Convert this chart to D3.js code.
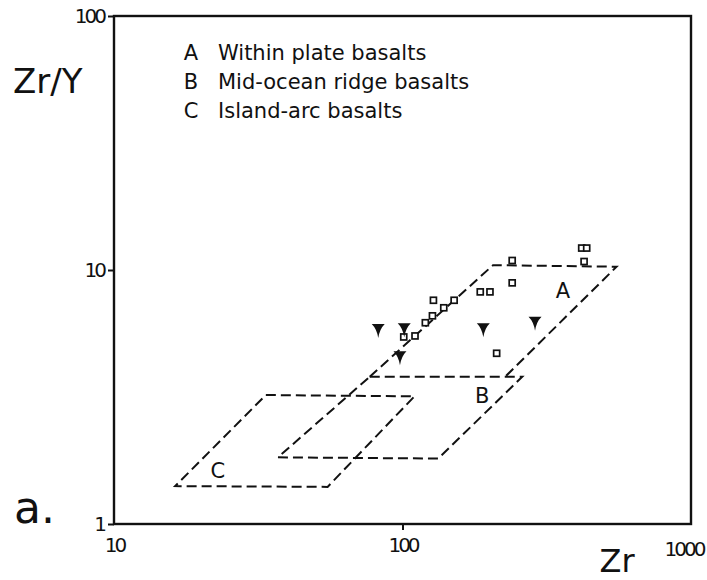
<!DOCTYPE html>
<html>
<head>
<meta charset="utf-8">
<script src="https://cdn.jsdelivr.net/npm/d3@7"></script>
<style>
  html, body { margin: 0; padding: 0; background: #fff; }
  svg { display: block; }
  .lbl { font-family: "DejaVu Sans", sans-serif; fill: #111; }
  .tick text { font-family: "DejaVu Sans", sans-serif; font-size: 20px; letter-spacing: -3px; fill: #111; }
</style>
</head>
<body>
<svg id="chart" width="707" height="580"></svg>
<script>
// Zr (ppm) against Zr/Y, both on log scales — discrimination fields for basalts
const xTicks = [10, 100, 1000];
const yTicks = [1, 10, 100];

// Field outlines as [Zr, Zr/Y] corners
const fieldA = [[77, 3.8], [206, 10.45], [552, 10.3], [227, 3.8]];          // lower edge is shared with B
const fieldB = [[77, 3.8], [260, 3.8], [133, 1.81], [37, 1.83], [77, 3.8]];
const fieldC = [[33.6, 3.22], [110, 3.18], [55, 1.4], [16.3, 1.41], [33.6, 3.22]];
const fieldNames = ["A", "B", "C"];
const fieldLabelAt = [[360, 8.34], [189, 3.22], [22.9, 1.63]];

const legendKeys = ["A", "B", "C"];
const legendTexts = ["Within plate basalts", "Mid-ocean ridge basalts", "Island-arc basalts"];

// Samples plotted as open squares
const squareZr  = [418, 435, 426, 240, 240, 186, 201, 128, 151, 139, 127, 120, 110.5, 101, 212];
const squareZrY = [12.2, 12.2, 10.8, 10.9, 8.9, 8.2, 8.2, 7.6, 7.6, 7.1, 6.6, 6.2, 5.5, 5.45, 4.7];

// Samples plotted as filled down-triangles
const triangleZr  = [82.4, 101.4, 190.6, 288, 98];
const triangleZrY = [5.8, 5.84, 5.84, 6.2, 4.53];

const W = 707, H = 580;
const margin = { left: 114, top: 16, right: 16, bottom: 56 };
const svg = d3.select("#chart");
const ink = "#111";

const x = d3.scaleLog().domain([10, 1000]).range([margin.left, W - margin.right]);
const y = d3.scaleLog().domain([1, 100]).range([H - margin.bottom, margin.top]);

// Frame
svg.append("rect")
  .attr("x", x(10)).attr("y", y(100))
  .attr("width", x(1000) - x(10)).attr("height", y(1) - y(100))
  .attr("fill", "none").attr("stroke", ink).attr("stroke-width", 2.4);

// Axes
const xAxis = svg.append("g")
  .attr("transform", `translate(0,${y(1)})`)
  .call(d3.axisBottom(x).tickValues(xTicks).tickFormat(d3.format("d")).tickSize(6).tickPadding(8).tickSizeOuter(0));
xAxis.select(".domain").remove();
xAxis.selectAll(".tick line").attr("stroke", ink).attr("stroke-width", 2)
  .attr("y2", d => (d === 100 ? 6 : 0));
xAxis.selectAll(".tick text")
  .filter(d => d === 1000)
  .attr("text-anchor", "end")
  .attr("x", W - x(1000) - 4)
  .attr("y", 18);

const yAxis = svg.append("g")
  .attr("transform", `translate(${x(10)},0)`)
  .call(d3.axisLeft(y).tickValues(yTicks).tickFormat(d3.format("d")).tickSize(6).tickPadding(4).tickSizeOuter(0));
yAxis.select(".domain").remove();
yAxis.selectAll(".tick line").attr("stroke", ink).attr("stroke-width", 2);

// Dashed field outlines
const line = d3.line().x(d => x(d[0])).y(d => y(d[1]));
[fieldA, fieldB, fieldC].forEach(f => {
  svg.append("path")
    .attr("d", line(f))
    .attr("fill", "none")
    .attr("stroke", ink)
    .attr("stroke-width", 2)
    .attr("stroke-dasharray", "10,5");
});

// Field letters
svg.selectAll("text.field")
  .data(fieldNames)
  .enter().append("text")
  .attr("class", "lbl field")
  .attr("x", (d, i) => x(fieldLabelAt[i][0]))
  .attr("y", (d, i) => y(fieldLabelAt[i][1]))
  .attr("dy", "0.36em")
  .attr("text-anchor", "middle")
  .attr("font-size", 21)
  .text(d => d);

// Legend
const legend = svg.append("g");
legendKeys.forEach((k, i) => {
  const by = 60 + i * 29;
  legend.append("text").attr("class", "lbl").attr("x", 191).attr("y", by)
    .attr("text-anchor", "middle").attr("font-size", 21).text(k);
  legend.append("text").attr("class", "lbl").attr("x", 218).attr("y", by)
    .attr("font-size", 21).text(legendTexts[i]);
});

// Square samples
svg.selectAll("rect.sq")
  .data(squareZr.map((v, i) => [v, squareZrY[i]]))
  .enter().append("rect")
  .attr("class", "sq")
  .attr("x", d => x(d[0]) - 3).attr("y", d => y(d[1]) - 3)
  .attr("width", 6).attr("height", 6)
  .attr("fill", "#fff").attr("stroke", ink).attr("stroke-width", 1.7);

// Triangle samples
const tri = "M-6.5,-6 L6.5,-6 Q1.4,-1 0,8 Q-1.4,-1 -6.5,-6 Z";
svg.selectAll("path.tri")
  .data(triangleZr.map((v, i) => [v, triangleZrY[i]]))
  .enter().append("path")
  .attr("class", "tri")
  .attr("d", tri)
  .attr("transform", d => `translate(${x(d[0])},${y(d[1])})`)
  .attr("fill", ink);

// Axis titles and panel letter
svg.append("text").attr("class", "lbl").attr("x", 13).attr("y", 93)
  .attr("font-size", 34).text("Zr/Y");
svg.append("text").attr("class", "lbl").attr("x", 617).attr("y", 572)
  .attr("text-anchor", "middle").attr("font-size", 32).text("Zr");
svg.append("text").attr("class", "lbl").attr("x", 14).attr("y", 523)
  .attr("font-size", 44).text("a.");
</script>
</body>
</html>
